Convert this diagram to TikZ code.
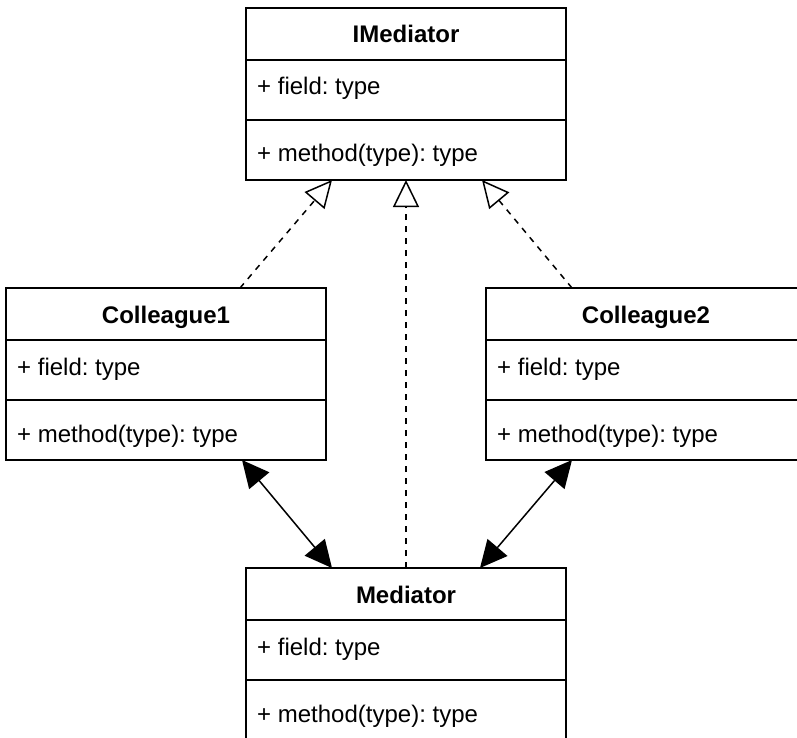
\documentclass[tikz,border=0pt]{standalone}
\usepackage{fontspec}
\setmainfont{Liberation Sans}
\usetikzlibrary{arrows.meta}
\frenchspacing

\tikzset{
  classframe/.style={draw, line width=2pt, fill=white, minimum width=320pt,
    minimum height=172pt, inner sep=0pt, outer sep=0pt},
  classtitle/.style={anchor=base, font=\fontsize{24}{28}\selectfont\bfseries, inner sep=0pt},
  member/.style={anchor=base west, inner sep=0pt},
  divider/.style={line width=2pt},
  realizes/.style={line width=1.5pt, dash pattern=on 6pt off 6pt,
    -{Triangle[open, length=27pt, width=26pt]}},
  assoc/.style={line width=1.5pt,
    {Triangle[length=27pt, width=26pt]}-{Triangle[length=27pt, width=26pt]}},
}

% UML class box: #1 name, #2 left, #3 top, #4 class title
\newcommand\umlclass[4]{%
  \node[classframe, anchor=north west] (#1) at (#2,#3) {};
  \node[classtitle] (#1-title) at ([yshift=-35pt]#1.north) {#4};
  \draw[divider] ([yshift=-52pt]#1.north west) -- ([yshift=-52pt]#1.north east);
  \node[member] (#1-field) at ([xshift=11pt, yshift=-87pt]#1.north west) {+ field: type};
  \draw[divider] ([yshift=-112pt]#1.north west) -- ([yshift=-112pt]#1.north east);
  \node[member] (#1-method) at ([xshift=11pt, yshift=-154pt]#1.north west) {+ method(type): type};
}

\begin{document}
\begin{tikzpicture}[x=1pt, y=-1pt, font=\fontsize{24}{28}\selectfont]
  \clip (0,0) rectangle (797,738);

  \umlclass{im}{246}{8}{IMediator}
  \umlclass{c1}{6}{288}{Colleague1}
  \umlclass{c2}{486}{288}{Colleague2}
  \umlclass{med}{246}{568}{Mediator}

  % realizations of the mediator interface
  \draw[realizes] ([xshift=234pt]c1.north west) -- ([xshift=86pt]im.south west);
  \draw[realizes] (med.north) -- (im.south);
  \draw[realizes] ([xshift=86pt]c2.north west) -- ([xshift=236pt]im.south west);

  % two-way associations between colleagues and the mediator
  \draw[assoc] ([xshift=236pt]c1.south west) -- ([xshift=86pt]med.north west);
  \draw[assoc] ([xshift=86pt]c2.south west) -- ([xshift=234pt]med.north west);
\end{tikzpicture}
\end{document}
